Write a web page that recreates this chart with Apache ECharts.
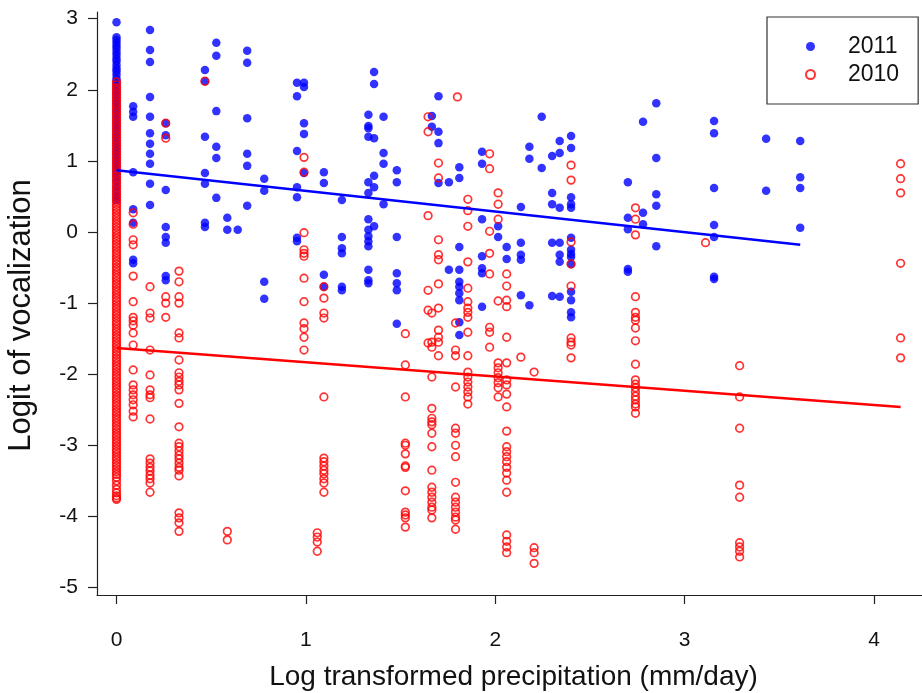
<!DOCTYPE html>
<html><head><meta charset="utf-8">
<script src="https://cdn.jsdelivr.net/npm/echarts@6.0.0/dist/echarts.min.js"></script>
<style>html,body{margin:0;padding:0;background:#fff}#c{width:922px;height:693px}</style>
</head><body><div id="c"></div>
<script>
// ---- data ----
const xTicks = [0, 1, 2, 3, 4];
const yTicks = [-5, -4, -3, -2, -1, 0, 1, 2, 3];

// 2011: distinct precipitation values and the logits observed at each
const precip2011 = [0, 0.088, 0.177, 0.26, 0.467, 0.527, 0.585, 0.64, 0.69, 0.78, 0.953, 0.99, 1.095, 1.19, 1.33, 1.36, 1.41, 1.48, 1.665, 1.70, 1.755, 1.81, 1.93, 2.015, 2.06, 2.135, 2.18, 2.245, 2.30, 2.34, 2.40, 2.70, 2.78, 2.85, 3.155, 3.43, 3.61];
const logit2011 = [
  [2.95,2.74,2.70,2.66,2.62,2.58,2.53,2.49,2.44,2.40,2.35,2.30,2.26,2.21,2.16,2.12,2.07,2.02,1.97,1.93,1.88,1.83,1.78,1.73,1.69,1.64,1.59,1.54,1.49,1.45,1.40,1.35,1.30,1.25,1.21,1.16,1.11,1.06,1.01,0.97,0.92,0.87,0.82,0.77,0.71,0.64,0.57,0.50,0.45],
  [1.77,1.69,1.62,0.84,0.32,0.13,-0.39,-0.44],
  [2.84,2.56,2.39,1.90,1.62,1.39,1.24,1.10,0.96,0.68,0.38],
  [1.53,1.36,0.59,0.07,-0.07,-0.15,-0.62,-0.68],
  [2.28,2.12,1.34,0.83,0.68,0.13,0.07],
  [2.66,2.48,1.70,1.20,1.04,0.48],
  [0.20,0.03],
  [0.03],
  [2.55,2.38,1.60,1.10,0.93,0.37],
  [0.75,0.58,-0.70,-0.94],
  [2.10,1.91,1.14,0.63,0.49,-0.08,-0.13],
  [2.10,2.04,1.53,1.38,0.83],
  [0.84,0.69,-0.60,-0.77],
  [0.45,-0.07,-0.23,-0.30,-0.77,-0.82],
  [1.65,1.49,1.46,1.34,0.70,0.55,0.18,0.03,-0.06,-0.13,-0.20,-0.53,-0.68,-0.72],
  [2.25,2.08,1.32,0.79,0.63,0.08],
  [1.62,1.11,0.96,0.39],
  [0.87,0.70,-0.07,-0.58,-0.72,-0.82,-1.29],
  [1.63,1.48],
  [1.91,1.41,1.25,0.69],
  [0.70,-0.53],
  [0.91,0.76,-0.21,-0.53,-0.70,-0.77,-0.86,-0.96,-1.27,-1.45],
  [1.13,0.96,0.18,-0.34,-0.51,-0.58,-1.05],
  [0.08,-0.07],
  [-0.21,-0.38],
  [0.35,-0.15,-0.32,-0.39,-0.89],
  [1.20,1.03,-1.03],
  [1.62,0.90],
  [1.07,0.55,0.39,-0.15,-0.90],
  [1.28,1.11,0.34,-0.15,-0.32,-0.42,-0.91],
  [1.35,1.18,0.49,0.39,0.34,-0.08,-0.25,-0.31,-0.35,-0.45,-0.84,-0.96,-1.13,-1.20],
  [0.70,0.20,0.04,-0.52,-0.56],
  [1.55,0.27,0.11],
  [1.81,1.04,0.53,0.37,-0.20],
  [1.56,1.39,0.62,0.10,-0.07,-0.63,-0.66],
  [1.31,0.58],
  [1.28,0.77,0.62,0.06]
];

// 2010
const precip2010 = [0, 0.088, 0.177, 0.26, 0.33, 0.467, 0.585, 0.99, 1.06, 1.095, 1.525, 1.645, 1.665, 1.70, 1.79, 1.80, 1.855, 1.97, 2.015, 2.06, 2.135, 2.205, 2.40, 2.74, 3.11, 3.29, 4.14];
const logit2010 = [
  [2.11,2.07,2.03,1.99,1.95,1.91,1.87,1.83,1.79,1.75,1.71,1.67,1.63,1.59,1.55,1.51,1.47,1.43,1.39,1.35,1.31,1.27,1.23,1.19,1.15,1.11,1.07,1.03,0.99,0.95,0.91,0.87,0.83,0.79,0.75,0.71,0.67,0.63,0.59,0.55,0.51,0.47,0.43,0.39,0.35,0.31,0.27,0.23,0.19,0.15,0.11,0.07,0.03,-0.01,-0.05,-0.09,-0.13,-0.17,-0.21,-0.25,-0.29,-0.33,-0.37,-0.41,-0.45,-0.49,-0.53,-0.57,-0.61,-0.65,-0.69,-0.73,-0.77,-0.81,-0.85,-0.89,-0.93,-0.97,-1.01,-1.05,-1.09,-1.13,-1.17,-1.21,-1.25,-1.29,-1.33,-1.37,-1.41,-1.45,-1.49,-1.53,-1.57,-1.61,-1.65,-1.69,-1.73,-1.77,-1.81,-1.85,-1.89,-1.93,-1.97,-2.01,-2.05,-2.09,-2.13,-2.17,-2.21,-2.25,-2.29,-2.33,-2.37,-2.41,-2.45,-2.49,-2.53,-2.57,-2.61,-2.65,-2.69,-2.73,-2.77,-2.81,-2.85,-2.89,-2.93,-2.97,-3.01,-3.05,-3.09,-3.13,-3.17,-3.21,-3.25,-3.29,-3.33,-3.37,-3.41,-3.45,-3.50,-3.56,-3.62,-3.67,-3.71,-3.74,-3.76],
  [0.27,0.11,-0.11,-0.18,-0.62,-0.98,-1.20,-1.25,-1.31,-1.42,-1.59,-1.94,-2.15,-2.22,-2.29,-2.36,-2.43,-2.52,-2.60],
  [-0.77,-1.14,-1.21,-1.66,-2.01,-2.22,-2.29,-2.33,-2.63,-3.19,-3.25,-3.31,-3.36,-3.42,-3.47,-3.53,-3.66],
  [1.53,1.32,-0.91,-1.00,-1.20],
  [-0.55,-0.70,-0.91,-1.00,-1.42,-1.49,-1.80,-1.98,-2.04,-2.10,-2.15,-2.22,-2.41,-2.74,-2.97,-3.02,-3.08,-3.14,-3.19,-3.25,-3.31,-3.35,-3.43,-3.95,-4.02,-4.09,-4.21],
  [2.12],
  [-4.21,-4.33],
  [1.05,0.84,-0.01,-0.25,-0.30,-0.34,-0.65,-0.98,-1.28,-1.36,-1.48,-1.66],
  [-4.23,-4.29,-4.36,-4.49],
  [-0.77,-0.93,-1.14,-1.21,-2.32,-3.18,-3.23,-3.29,-3.35,-3.40,-3.47,-3.53,-3.66],
  [-1.43,-1.87,-2.32,-2.97,-3.00,-3.12,-3.29,-3.31,-3.64,-3.94,-3.98,-4.02,-4.15],
  [1.62,1.41,0.23,-0.82,-1.10,-1.56],
  [-1.14,-1.55,-1.62,-2.04,-2.48,-2.62,-2.67,-2.71,-2.83,-3.02,-3.35,-3.59,-3.66,-3.73,-3.80,-3.87,-3.91,-4.02],
  [0.97,0.76,-0.11,-0.32,-0.39,-0.73,-1.07,-1.38,-1.48,-1.55,-1.74],
  [-1.28,-1.66,-1.74,-2.18,-2.76,-2.83,-3.00,-3.16,-3.52,-3.73,-3.80,-3.87,-3.94,-4.01,-4.05,-4.18],
  [1.90],
  [0.46,0.30,0.08,-0.42,-0.79,-0.98,-1.07,-1.13,-1.20,-1.41,-1.74,-1.97,-2.04,-2.11,-2.18,-2.25,-2.32,-2.42],
  [1.10,0.89,0.01,-0.30,-0.59,-1.34,-1.41,-1.62],
  [0.55,0.39,0.18,-0.97,-1.84,-1.91,-1.98,-2.05,-2.12,-2.19,-2.32],
  [-0.59,-0.76,-0.96,-1.05,-1.48,-1.84,-2.08,-2.15,-2.28,-2.46,-2.80,-3.02,-3.09,-3.16,-3.23,-3.31,-3.39,-3.49,-3.66,-4.26,-4.35,-4.43,-4.51],
  [-1.76],
  [-1.97,-4.44,-4.51,-4.66],
  [0.94,0.73,-0.14,-0.45,-0.76,-1.49,-1.55,-1.59,-1.77],
  [0.34,0.18,-0.04,-0.91,-1.13,-1.20,-1.24,-1.35,-1.53,-1.86,-2.08,-2.14,-2.19,-2.25,-2.31,-2.36,-2.42,-2.46,-2.55],
  [-0.15],
  [-1.88,-2.32,-2.76,-3.56,-3.73,-4.37,-4.43,-4.49,-4.57],
  [0.96,0.75,0.55,-0.44,-1.49,-1.77]
];

// fitted regression lines (end points)
const fitX2011 = [0, 3.61];
const fitY2011 = [0.87, -0.18];
const fitX2010 = [0, 4.14];
const fitY2010 = [-1.63, -2.46];

// ---- build ----
function pairs(xs, ys) {
  const out = [];
  xs.forEach((x, i) => ys[i].forEach(y => out.push([x, y])));
  return out;
}
function line(xs, ys) { return xs.map((x, i) => [x, ys[i]]); }

const FONT = 'Liberation Sans, Arial, Helvetica, sans-serif';
const BLUE = '#0000ff';
const RED = '#ff0000';

const chart = echarts.init(document.getElementById('c'), null, {renderer: 'canvas'});
chart.setOption({
  animation: false,
  backgroundColor: '#fff',
  grid: {left: 97, right: 0, top: 12, bottom: 98, containLabel: false, outerBoundsMode: 'none'},
  xAxis: {
    type: 'value', min: -0.103, max: 4.253,
    name: 'Log transformed precipitation (mm/day)',
    nameLocation: 'middle', nameGap: 68,
    nameTextStyle: {fontFamily: FONT, fontSize: 28, color: '#111', padding: [0, 0, 0, 8]},
    axisLine: {show: true, onZero: false, lineStyle: {color: '#222', width: 1.2}},
    axisTick: {show: true, inside: false, length: 9, customValues: xTicks, lineStyle: {color: '#222', width: 1.2}},
    axisLabel: {show: true, margin: 35, customValues: xTicks, fontFamily: FONT, fontSize: 21, color: '#111'},
    splitLine: {show: false}
  },
  yAxis: {
    type: 'value', min: -5.105, max: 3.094,
    name: 'Logit of vocalization',
    nameLocation: 'middle', nameGap: 60, nameRotate: 90,
    nameTextStyle: {fontFamily: FONT, fontSize: 31, color: '#111', padding: [0, 24, 0, 0]},
    axisLine: {show: true, onZero: false, lineStyle: {color: '#222', width: 1.2}},
    axisTick: {show: true, inside: false, length: 9, customValues: yTicks, lineStyle: {color: '#222', width: 1.2}},
    axisLabel: {show: true, margin: 19, customValues: yTicks, fontFamily: FONT, fontSize: 21, color: '#111'},
    splitLine: {show: false}
  },
  legend: {
    orient: 'vertical', left: 767, top: 17,
    padding: [18, 19, 18, 38], itemGap: 5, itemWidth: 9, itemHeight: 9,
    borderColor: '#333', borderWidth: 1.2,
    textStyle: {fontFamily: FONT, fontSize: 23, color: '#111', padding: [0, 0, 0, 28]},
    data: [{name: '2011', icon: 'circle'}, {name: '2010', icon: 'circle'}]
  },
  series: [
    {
      name: '2011', type: 'scatter', symbol: 'circle', symbolSize: 8.5,
      itemStyle: {color: BLUE},
      data: pairs(precip2011, logit2011), z: 2
    },
    {
      name: '2010', type: 'scatter', symbol: 'circle', symbolSize: 7.6,
      itemStyle: {color: 'rgba(255,255,255,0)', borderColor: RED, borderWidth: 1.7},
      data: pairs(precip2010, logit2010), z: 3
    },
    {
      name: 'fit2011', type: 'line', data: line(fitX2011, fitY2011), symbol: 'none',
      lineStyle: {color: BLUE, width: 2.5}, z: 4
    },
    {
      name: 'fit2010', type: 'line', data: line(fitX2010, fitY2010), symbol: 'none',
      lineStyle: {color: RED, width: 2.5}, z: 4
    }
  ]
});
</script>
</body></html>
